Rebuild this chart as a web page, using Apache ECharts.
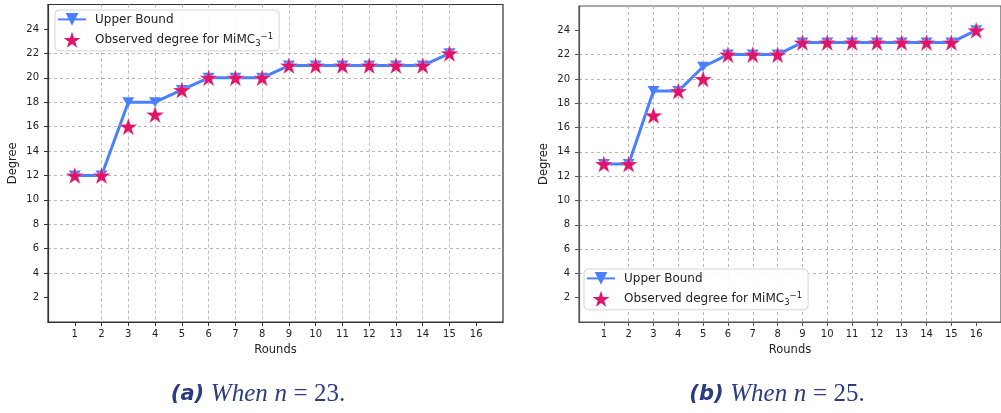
<!DOCTYPE html>
<html>
<head>
<meta charset="utf-8">
<script src="https://cdn.jsdelivr.net/npm/echarts@6/dist/echarts.min.js"></script>
<style>
html,body{margin:0;padding:0;background:#fff;}
#c{width:1001px;height:413px;}
</style>
</head>
<body>
<div id="c"></div>
<script>
// ---- data ----
const roundsA = [1,2,3,4,5,6,7,8,9,10,11,12,13,14,15];
const upperA = [12,12,18,18,19,20,20,20,21,21,21,21,21,21,22];
const observedA = [12,12,16,17,19,20,20,20,21,21,21,21,21,21,22];

const roundsB = [1,2,3,4,5,6,7,8,9,10,11,12,13,14,15,16];
const upperB = [13,13,19,19,21,22,22,22,23,23,23,23,23,23,23,24];
const observedB = [13,13,17,19,20,22,22,22,23,23,23,23,23,23,23,24];

const xTicks = [1,2,3,4,5,6,7,8,9,10,11,12,13,14,15,16];
const yTicks = [2,4,6,8,10,12,14,16,18,20,22,24];

const seriesNames = ['Upper Bound', 'Observed degree for MiMC'];
const captionA = ['(a)', 'When', 'n', '= 23.'];
const captionB = ['(b)', 'When', 'n', '= 25.'];

// ---- styles ----
const FONT = 'DejaVu Sans';
const BLUE = '#4a80ff';
const PINK = '#e0156a';
const STAR = 'path://M50,0 L61.23,34.55 L97.55,34.55 L68.17,55.9 L79.39,90.45 L50,69.1 L20.61,90.45 L31.83,55.9 L2.45,34.55 L38.77,34.55 Z';
const CAP = '#2b3c80';

function pairs(xs, ys) { return xs.map((x, i) => [x, ys[i]]); }

function xAxisCfg(idx, spine) {
  return {
    type: 'value', gridIndex: idx, min: 0, max: 17, interval: 1,
    name: 'Rounds', nameLocation: 'middle', nameGap: 22,
    nameTextStyle: { fontFamily: FONT, fontSize: 11.5, color: '#222' },
    axisLine: { show: true, lineStyle: { color: spine, width: 1.2 } },
    axisTick: { show: true, length: 4, customValues: xTicks, lineStyle: { color: spine } },
    axisLabel: { customValues: xTicks, fontFamily: FONT, fontSize: 10, color: '#222', margin: 7 },
    splitLine: { show: true, showMinLine: false, showMaxLine: false,
      lineStyle: { type: [3, 3], color: '#b8b8b8', width: 1 } }
  };
}
function yAxisCfg(idx, spine) {
  return {
    type: 'value', gridIndex: idx, min: 0, max: 26, interval: 2,
    name: 'Degree', nameLocation: 'middle', nameGap: 29,
    nameTextStyle: { fontFamily: FONT, fontSize: 11.5, color: '#222' },
    axisLine: { show: true, lineStyle: { color: spine, width: 1.2 } },
    axisTick: { show: true, length: 4, customValues: yTicks, lineStyle: { color: spine } },
    axisLabel: { customValues: yTicks, fontFamily: FONT, fontSize: 10, color: '#222', margin: 9 },
    splitLine: { show: true, showMinLine: false, showMaxLine: false,
      lineStyle: { type: [3, 3], color: '#b8b8b8', width: 1 } }
  };
}
function lineSeries(idx, xs, ys) {
  return {
    name: seriesNames[0], type: 'line', xAxisIndex: idx, yAxisIndex: idx,
    data: pairs(xs, ys), color: BLUE,
    lineStyle: { width: 3, color: BLUE },
    symbol: 'triangle', symbolRotate: 180, symbolSize: [12, 10],
    itemStyle: { color: BLUE }, z: 2, animation: false
  };
}
function starSeries(idx, xs, ys) {
  return {
    name: seriesNames[1], type: 'scatter', xAxisIndex: idx, yAxisIndex: idx,
    data: pairs(xs, ys), symbol: STAR, symbolKeepAspect: true, symbolSize: 18,
    itemStyle: { color: PINK, opacity: 1, borderColor: 'rgba(255,255,255,0.4)', borderWidth: 0.6 },
    z: 3, animation: false
  };
}
function legendCfg(left, top) {
  return {
    left: left, top: top, orient: 'vertical', itemWidth: 28, itemHeight: 16, itemGap: 6,
    data: [
      { name: seriesNames[0] },
      { name: seriesNames[1], icon: STAR, itemStyle: { opacity: 1, color: PINK, borderWidth: 0 } }
    ],
    selectedMode: false,
    backgroundColor: 'rgba(255,255,255,0.85)', borderColor: '#d4d4d4', borderWidth: 1, borderRadius: 4,
    padding: [3, 6, 3, 2],
    textStyle: {
      fontFamily: FONT, fontSize: 12, color: '#222', padding: [0, 0, 0, 4],
      rich: {
        sub: { fontFamily: FONT, fontSize: 8.5, color: '#222', padding: [7, 0, 0, 0] },
        sup: { fontFamily: FONT, fontSize: 8.5, color: '#222', padding: [0, 0, 7, 0] }
      }
    },
    formatter: function (name) {
      if (name === seriesNames[1]) return name + '{sub|3}{sup|−1}';
      return name;
    }
  };
}
function captionCfg(cx, parts) {
  return {
    left: cx, top: 377, textAlign: 'center',
    text: '{a|' + parts[0] + '} {w|' + parts[1] + '} {n|' + parts[2] + '} {r|' + parts[3] + '}',
    textStyle: {
      fontWeight: 'normal', fontSize: 24,
      rich: {
        a: { fontFamily: 'DejaVu Sans', fontWeight: 'bold', fontStyle: 'italic', fontSize: 21, color: CAP },
        w: { fontFamily: 'Liberation Serif', fontWeight: 'normal', fontStyle: 'italic', fontSize: 25, color: CAP },
        n: { fontFamily: 'Liberation Serif', fontWeight: 'normal', fontStyle: 'italic', fontSize: 25, color: CAP },
        r: { fontFamily: 'Liberation Serif', fontWeight: 'normal', fontSize: 25, color: CAP }
      }
    }
  };
}

const chart = echarts.init(document.getElementById('c'), null, { renderer: 'canvas' });
chart.setOption({
  animation: false,
  backgroundColor: '#fff',
  grid: [
    { left: 48, top: 4.5, width: 455, height: 317.5, show: true, borderColor: '#333', borderWidth: 1.2, backgroundColor: 'transparent' },
    { left: 579, top: 6, width: 424, height: 316, show: true, borderColor: '#555', borderWidth: 1.2, backgroundColor: 'transparent' }
  ],
  xAxis: [xAxisCfg(0, '#333'), xAxisCfg(1, '#555')],
  yAxis: [yAxisCfg(0, '#333'), yAxisCfg(1, '#555')],
  legend: [legendCfg(55, 10), legendCfg(584, 269)],
  title: [captionCfg(253, captionA), captionCfg(772, captionB)],
  series: [
    lineSeries(0, roundsA, upperA), starSeries(0, roundsA, observedA),
    lineSeries(1, roundsB, upperB), starSeries(1, roundsB, observedB)
  ]
});
</script>
</body>
</html>
